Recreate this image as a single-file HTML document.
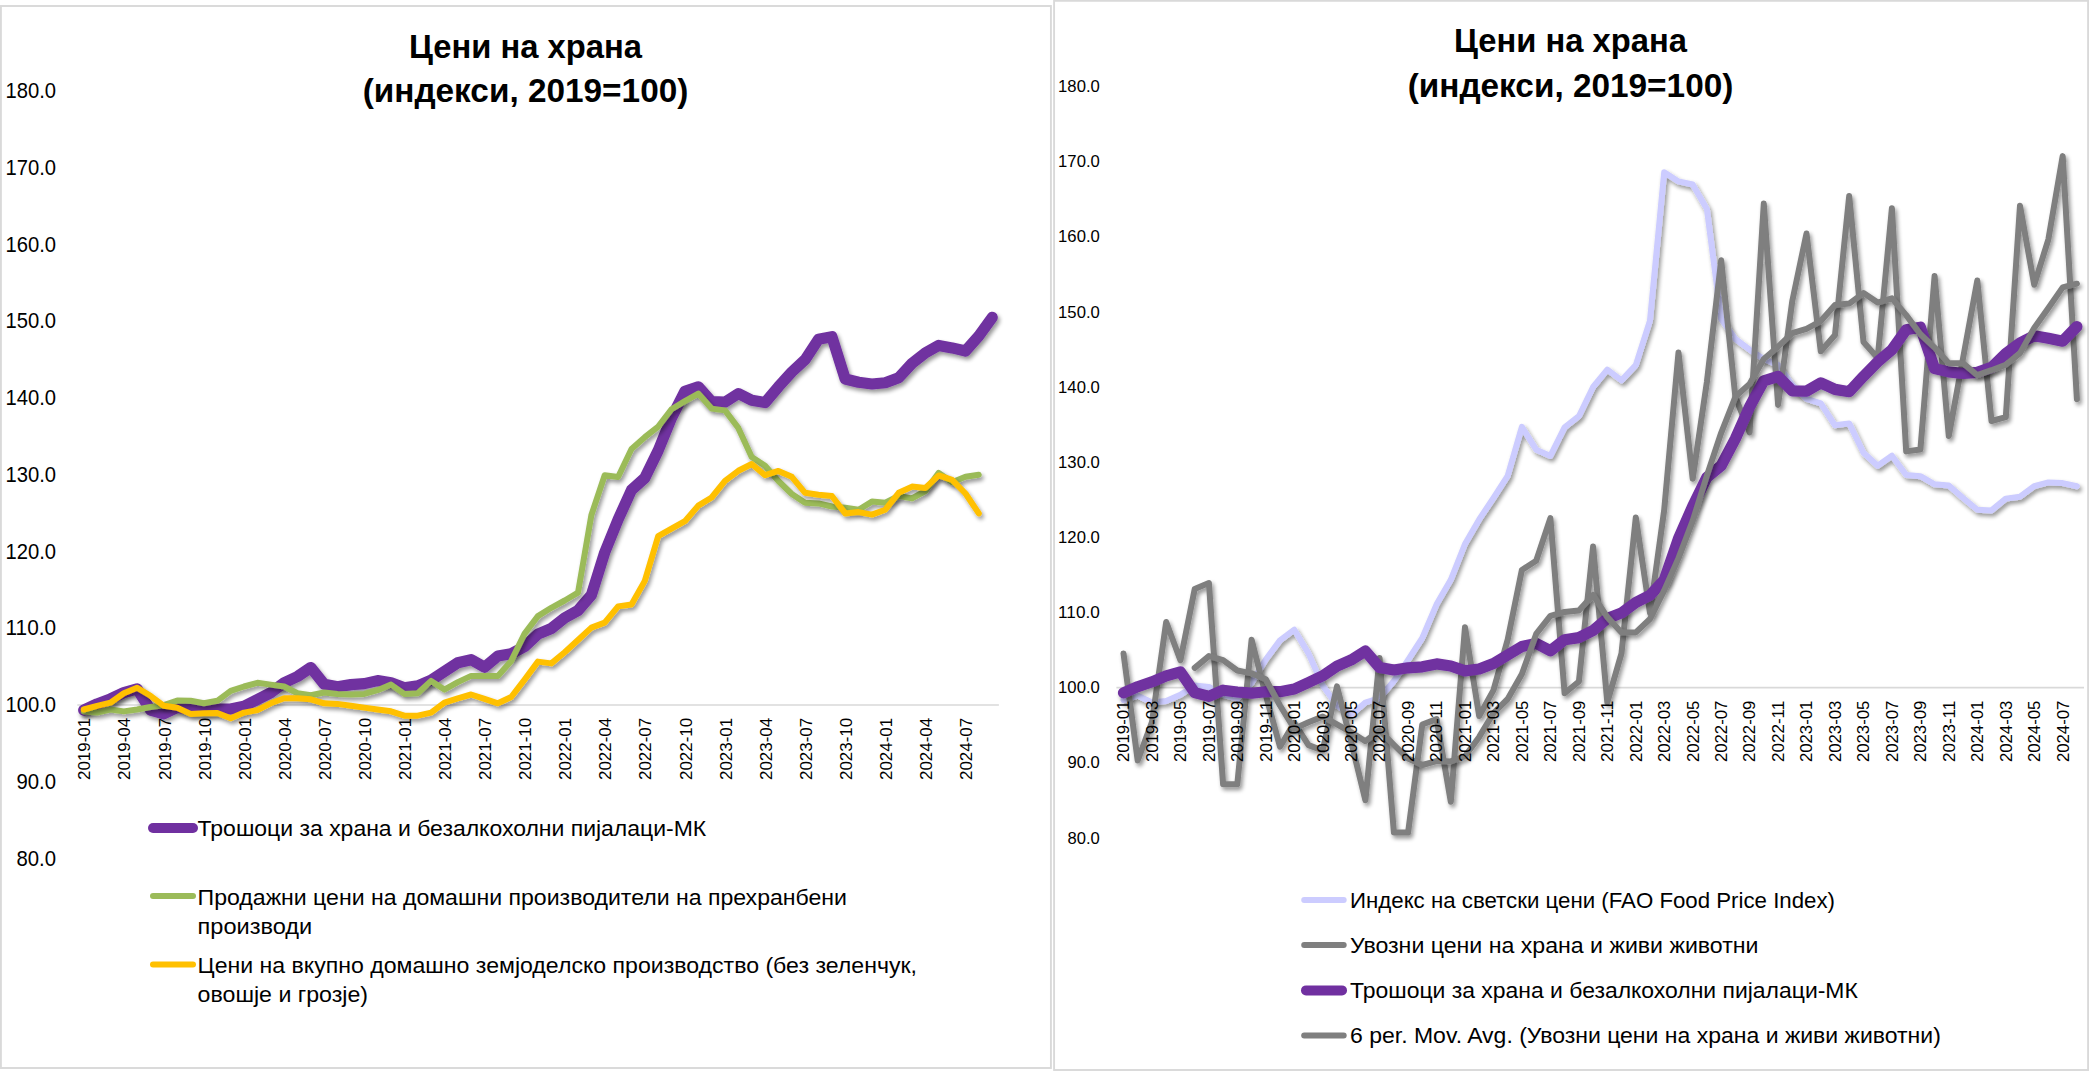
<!DOCTYPE html>
<html lang="mk"><head><meta charset="utf-8"><title>Цени на храна</title>
<style>html,body{margin:0;padding:0;background:#fff}body{width:2089px;height:1071px;overflow:hidden}svg{display:block}text{font-family:"Liberation Sans",sans-serif;fill:#000}</style>
</head><body>
<svg width="2089" height="1071" viewBox="0 0 2089 1071">
<defs><filter id="sh" x="-5%" y="-5%" width="110%" height="115%" filterUnits="objectBoundingBox"><feGaussianBlur in="SourceAlpha" stdDeviation="1.9"/><feOffset dx="2.2" dy="2.8" result="o"/><feComponentTransfer><feFuncA type="linear" slope="0.42"/></feComponentTransfer><feMerge><feMergeNode/><feMergeNode in="SourceGraphic"/></feMerge></filter></defs>
<rect width="2089" height="1071" fill="#fff"/>
<rect x="0.9" y="6" width="1050" height="1062" fill="none" stroke="#D9D9D9" stroke-width="1.9"/>
<rect x="1054.1" y="0.8" width="1034" height="1069.2" fill="none" stroke="#D9D9D9" stroke-width="1.9"/>
<g id="left">
<text x="525.5" y="57.7" font-size="32.3" font-weight="bold" text-anchor="middle" textLength="232.9" lengthAdjust="spacingAndGlyphs">Цени на храна</text>
<text x="525.5" y="102.4" font-size="32.3" font-weight="bold" text-anchor="middle" textLength="325.7" lengthAdjust="spacingAndGlyphs">(индекси, 2019=100)</text>
<text x="56.1" y="98.0" font-size="21.2" text-anchor="end" textLength="50.6" lengthAdjust="spacingAndGlyphs">180.0</text>
<text x="56.1" y="174.8" font-size="21.2" text-anchor="end" textLength="50.6" lengthAdjust="spacingAndGlyphs">170.0</text>
<text x="56.1" y="251.5" font-size="21.2" text-anchor="end" textLength="50.6" lengthAdjust="spacingAndGlyphs">160.0</text>
<text x="56.1" y="328.3" font-size="21.2" text-anchor="end" textLength="50.6" lengthAdjust="spacingAndGlyphs">150.0</text>
<text x="56.1" y="405.0" font-size="21.2" text-anchor="end" textLength="50.6" lengthAdjust="spacingAndGlyphs">140.0</text>
<text x="56.1" y="481.8" font-size="21.2" text-anchor="end" textLength="50.6" lengthAdjust="spacingAndGlyphs">130.0</text>
<text x="56.1" y="558.6" font-size="21.2" text-anchor="end" textLength="50.6" lengthAdjust="spacingAndGlyphs">120.0</text>
<text x="56.1" y="635.3" font-size="21.2" text-anchor="end" textLength="50.6" lengthAdjust="spacingAndGlyphs">110.0</text>
<text x="56.1" y="712.1" font-size="21.2" text-anchor="end" textLength="50.6" lengthAdjust="spacingAndGlyphs">100.0</text>
<text x="56.1" y="788.8" font-size="21.2" text-anchor="end" textLength="39.6" lengthAdjust="spacingAndGlyphs">90.0</text>
<text x="56.1" y="865.6" font-size="21.2" text-anchor="end" textLength="39.6" lengthAdjust="spacingAndGlyphs">80.0</text>
<line x1="77.3" y1="705" x2="998.9" y2="705" stroke="#D9D9D9" stroke-width="1.6"/>
<text transform="translate(90.3,717.8) rotate(-90)" font-size="16.6" text-anchor="end" textLength="62.2" lengthAdjust="spacingAndGlyphs">2019-01</text>
<text transform="translate(130.4,717.8) rotate(-90)" font-size="16.6" text-anchor="end" textLength="62.2" lengthAdjust="spacingAndGlyphs">2019-04</text>
<text transform="translate(170.5,717.8) rotate(-90)" font-size="16.6" text-anchor="end" textLength="62.2" lengthAdjust="spacingAndGlyphs">2019-07</text>
<text transform="translate(210.5,717.8) rotate(-90)" font-size="16.6" text-anchor="end" textLength="62.2" lengthAdjust="spacingAndGlyphs">2019-10</text>
<text transform="translate(250.6,717.8) rotate(-90)" font-size="16.6" text-anchor="end" textLength="62.2" lengthAdjust="spacingAndGlyphs">2020-01</text>
<text transform="translate(290.7,717.8) rotate(-90)" font-size="16.6" text-anchor="end" textLength="62.2" lengthAdjust="spacingAndGlyphs">2020-04</text>
<text transform="translate(330.8,717.8) rotate(-90)" font-size="16.6" text-anchor="end" textLength="62.2" lengthAdjust="spacingAndGlyphs">2020-07</text>
<text transform="translate(370.9,717.8) rotate(-90)" font-size="16.6" text-anchor="end" textLength="62.2" lengthAdjust="spacingAndGlyphs">2020-10</text>
<text transform="translate(410.9,717.8) rotate(-90)" font-size="16.6" text-anchor="end" textLength="62.2" lengthAdjust="spacingAndGlyphs">2021-01</text>
<text transform="translate(451.0,717.8) rotate(-90)" font-size="16.6" text-anchor="end" textLength="62.2" lengthAdjust="spacingAndGlyphs">2021-04</text>
<text transform="translate(491.1,717.8) rotate(-90)" font-size="16.6" text-anchor="end" textLength="62.2" lengthAdjust="spacingAndGlyphs">2021-07</text>
<text transform="translate(531.2,717.8) rotate(-90)" font-size="16.6" text-anchor="end" textLength="62.2" lengthAdjust="spacingAndGlyphs">2021-10</text>
<text transform="translate(571.3,717.8) rotate(-90)" font-size="16.6" text-anchor="end" textLength="62.2" lengthAdjust="spacingAndGlyphs">2022-01</text>
<text transform="translate(611.3,717.8) rotate(-90)" font-size="16.6" text-anchor="end" textLength="62.2" lengthAdjust="spacingAndGlyphs">2022-04</text>
<text transform="translate(651.4,717.8) rotate(-90)" font-size="16.6" text-anchor="end" textLength="62.2" lengthAdjust="spacingAndGlyphs">2022-07</text>
<text transform="translate(691.5,717.8) rotate(-90)" font-size="16.6" text-anchor="end" textLength="62.2" lengthAdjust="spacingAndGlyphs">2022-10</text>
<text transform="translate(731.6,717.8) rotate(-90)" font-size="16.6" text-anchor="end" textLength="62.2" lengthAdjust="spacingAndGlyphs">2023-01</text>
<text transform="translate(771.7,717.8) rotate(-90)" font-size="16.6" text-anchor="end" textLength="62.2" lengthAdjust="spacingAndGlyphs">2023-04</text>
<text transform="translate(811.7,717.8) rotate(-90)" font-size="16.6" text-anchor="end" textLength="62.2" lengthAdjust="spacingAndGlyphs">2023-07</text>
<text transform="translate(851.8,717.8) rotate(-90)" font-size="16.6" text-anchor="end" textLength="62.2" lengthAdjust="spacingAndGlyphs">2023-10</text>
<text transform="translate(891.9,717.8) rotate(-90)" font-size="16.6" text-anchor="end" textLength="62.2" lengthAdjust="spacingAndGlyphs">2024-01</text>
<text transform="translate(932.0,717.8) rotate(-90)" font-size="16.6" text-anchor="end" textLength="62.2" lengthAdjust="spacingAndGlyphs">2024-04</text>
<text transform="translate(972.1,717.8) rotate(-90)" font-size="16.6" text-anchor="end" textLength="62.2" lengthAdjust="spacingAndGlyphs">2024-07</text>
<polyline points="83.7,710.1 97.1,703.9 110.4,698.9 123.8,692.7 137.1,688.8 150.5,710.0 163.9,713.8 177.2,707.5 190.6,709.3 203.9,710.5 217.3,709.0 230.7,709.0 244.0,706.2 257.4,699.6 270.7,692.7 284.1,682.8 297.5,676.5 310.8,667.5 324.2,684.3 337.5,686.8 350.9,684.6 364.3,683.6 377.6,680.6 391.0,682.7 404.3,687.7 417.7,685.8 431.1,680.2 444.4,671.5 457.8,662.8 471.1,659.7 484.5,667.2 497.9,656.0 511.2,653.7 524.6,646.6 537.9,634.2 551.3,628.5 564.7,617.8 578.0,610.5 591.4,595.0 604.7,552.5 618.1,519.5 631.5,490.0 644.8,478.0 658.2,450.5 671.5,417.9 684.9,391.4 698.3,386.8 711.6,401.7 725.0,402.1 738.3,393.6 751.7,400.2 765.1,402.6 778.4,386.8 791.8,372.0 805.1,359.7 818.5,339.2 831.9,336.7 845.2,379.0 858.6,382.3 871.9,384.0 885.3,382.7 898.7,377.7 912.0,363.4 925.4,352.8 938.7,345.4 952.1,347.9 965.5,351.0 978.8,336.0 992.2,317.4" fill="none" stroke="#7030A0" stroke-width="11.2" stroke-linejoin="round" stroke-linecap="round" filter="url(#sh)"/>
<polyline points="83.7,711.4 97.1,712.6 110.4,709.5 123.8,711.4 137.1,709.5 150.5,707.0 163.9,705.2 177.2,700.6 190.6,700.8 203.9,703.3 217.3,700.8 230.7,690.9 244.0,686.5 257.4,682.8 270.7,684.6 284.1,686.5 297.5,693.3 310.8,695.2 324.2,692.5 337.5,693.9 350.9,694.5 364.3,693.9 377.6,690.2 391.0,684.6 404.3,693.9 417.7,693.3 431.1,680.9 444.4,689.6 457.8,682.1 471.1,675.9 484.5,675.9 497.9,675.9 511.2,660.9 524.6,633.6 537.9,616.1 551.3,607.8 564.7,600.5 578.0,592.7 591.4,515.0 604.7,475.2 618.1,477.0 631.5,449.0 644.8,437.2 658.2,426.6 671.5,409.2 684.9,401.1 698.3,393.6 711.6,408.6 725.0,410.4 738.3,427.9 751.7,457.1 765.1,465.8 778.4,481.0 791.8,494.0 805.1,502.8 818.5,503.4 831.9,506.5 845.2,507.8 858.6,509.7 871.9,501.6 885.3,502.8 898.7,496.0 912.0,498.4 925.4,491.0 938.7,472.9 952.1,482.3 965.5,476.7 978.8,474.8" fill="none" stroke="#9BBB59" stroke-width="6.0" stroke-linejoin="round" stroke-linecap="round" filter="url(#sh)"/>
<polyline points="83.7,709.5 97.1,705.8 110.4,702.7 123.8,693.3 137.1,687.7 150.5,695.8 163.9,705.8 177.2,707.7 190.6,713.9 203.9,713.3 217.3,713.0 230.7,718.2 244.0,712.6 257.4,710.1 270.7,703.3 284.1,698.3 297.5,698.3 310.8,699.3 324.2,703.3 337.5,703.9 350.9,705.7 364.3,707.6 377.6,709.5 391.0,711.3 404.3,715.7 417.7,715.7 431.1,712.6 444.4,702.6 457.8,698.3 471.1,694.5 484.5,698.9 497.9,703.3 511.2,697.0 524.6,679.6 537.9,661.6 551.3,663.4 564.7,652.2 578.0,640.0 591.4,627.6 604.7,622.6 618.1,606.4 631.5,604.5 644.8,580.9 658.2,536.1 671.5,528.6 684.9,521.2 698.3,505.6 711.6,497.5 725.0,480.8 738.3,470.8 751.7,464.0 765.1,475.2 778.4,470.9 791.8,476.8 805.1,492.8 818.5,494.7 831.9,496.0 845.2,513.4 858.6,512.1 871.9,514.6 885.3,509.7 898.7,492.8 912.0,486.6 925.4,487.9 938.7,475.4 952.1,479.8 965.5,493.5 978.8,513.4" fill="none" stroke="#FFC000" stroke-width="6.0" stroke-linejoin="round" stroke-linecap="round" filter="url(#sh)"/>
<line x1="153.0" y1="828.0" x2="193.0" y2="828.0" stroke="#7030A0" stroke-width="10.0" stroke-linecap="round"/>
<text x="197.6" y="836.3" font-size="21.7" textLength="508.6" lengthAdjust="spacingAndGlyphs">Трошоци за храна и безалкохолни пијалаци-МК</text>
<line x1="153.0" y1="896.0" x2="193.0" y2="896.0" stroke="#9BBB59" stroke-width="6.0" stroke-linecap="round"/>
<text x="197.6" y="904.6" font-size="21.7" textLength="649.4" lengthAdjust="spacingAndGlyphs">Продажни цени на домашни производители на прехранбени</text>
<text x="197.6" y="934.0" font-size="21.7" textLength="114.6" lengthAdjust="spacingAndGlyphs">производи</text>
<line x1="153.0" y1="964.6" x2="193.0" y2="964.6" stroke="#FFC000" stroke-width="6.0" stroke-linecap="round"/>
<text x="197.6" y="973.0" font-size="21.7" textLength="719.4" lengthAdjust="spacingAndGlyphs">Цени на вкупно домашно земјоделско производство (без зеленчук,</text>
<text x="197.6" y="1002.4" font-size="21.7" textLength="170.5" lengthAdjust="spacingAndGlyphs">овошје и грозје)</text>
</g>
<g id="right">
<text x="1570.5" y="52.2" font-size="32.3" font-weight="bold" text-anchor="middle" textLength="232.9" lengthAdjust="spacingAndGlyphs">Цени на храна</text>
<text x="1570.5" y="97.0" font-size="32.3" font-weight="bold" text-anchor="middle" textLength="325.7" lengthAdjust="spacingAndGlyphs">(индекси, 2019=100)</text>
<text x="1099.8" y="92.1" font-size="16.2" text-anchor="end" textLength="41.7" lengthAdjust="spacingAndGlyphs">180.0</text>
<text x="1099.8" y="167.2" font-size="16.2" text-anchor="end" textLength="41.7" lengthAdjust="spacingAndGlyphs">170.0</text>
<text x="1099.8" y="242.4" font-size="16.2" text-anchor="end" textLength="41.7" lengthAdjust="spacingAndGlyphs">160.0</text>
<text x="1099.8" y="317.6" font-size="16.2" text-anchor="end" textLength="41.7" lengthAdjust="spacingAndGlyphs">150.0</text>
<text x="1099.8" y="392.7" font-size="16.2" text-anchor="end" textLength="41.7" lengthAdjust="spacingAndGlyphs">140.0</text>
<text x="1099.8" y="467.9" font-size="16.2" text-anchor="end" textLength="41.7" lengthAdjust="spacingAndGlyphs">130.0</text>
<text x="1099.8" y="543.0" font-size="16.2" text-anchor="end" textLength="41.7" lengthAdjust="spacingAndGlyphs">120.0</text>
<text x="1099.8" y="618.1" font-size="16.2" text-anchor="end" textLength="41.7" lengthAdjust="spacingAndGlyphs">110.0</text>
<text x="1099.8" y="693.3" font-size="16.2" text-anchor="end" textLength="41.7" lengthAdjust="spacingAndGlyphs">100.0</text>
<text x="1099.8" y="768.4" font-size="16.2" text-anchor="end" textLength="32.3" lengthAdjust="spacingAndGlyphs">90.0</text>
<text x="1099.8" y="843.6" font-size="16.2" text-anchor="end" textLength="32.3" lengthAdjust="spacingAndGlyphs">80.0</text>
<line x1="1116.4" y1="687.6" x2="2084" y2="687.6" stroke="#D9D9D9" stroke-width="1.6"/>
<polyline points="1123.5,700.2 1137.7,695.6 1152.0,702.5 1166.2,700.9 1180.4,694.8 1194.7,685.6 1208.9,687.0 1223.1,694.8 1237.3,698.6 1251.6,683.0 1265.8,659.5 1280.0,640.4 1294.3,629.7 1308.5,653.4 1322.7,685.6 1337.0,705.5 1351.2,714.7 1365.4,702.5 1379.6,698.0 1393.9,681.0 1408.1,660.0 1422.3,638.0 1436.6,604.3 1450.8,579.8 1465.0,544.0 1479.2,519.4 1493.5,498.0 1507.7,475.8 1521.9,426.8 1536.2,449.7 1550.4,455.9 1564.6,427.3 1578.9,416.2 1593.1,387.0 1607.3,369.7 1621.5,380.4 1635.8,365.1 1650.0,320.6 1664.2,172.2 1678.5,181.4 1692.7,184.5 1706.9,209.0 1721.2,319.1 1735.4,339.0 1749.6,349.7 1763.8,358.9 1778.1,365.1 1792.3,385.0 1806.5,398.8 1820.8,403.4 1835.0,425.3 1849.2,423.4 1863.5,452.8 1877.7,465.7 1891.9,455.7 1906.2,475.0 1920.4,476.2 1934.6,484.3 1948.8,485.5 1963.1,498.0 1977.3,509.8 1991.5,510.4 2005.8,498.6 2020.0,496.7 2034.2,486.2 2048.4,482.4 2062.7,483.1 2076.9,486.2" fill="none" stroke="#CCCCFF" stroke-width="6.0" stroke-linejoin="round" stroke-linecap="round" filter="url(#sh)"/>
<polyline points="1123.5,653.4 1137.7,760.5 1152.0,722.0 1166.2,622.0 1180.4,660.3 1194.7,589.1 1208.9,583.0 1223.1,784.2 1237.3,784.2 1251.6,639.7 1265.8,695.0 1280.0,746.7 1294.3,722.9 1308.5,745.1 1322.7,750.5 1337.0,686.4 1351.2,742.0 1365.4,800.3 1379.6,658.0 1393.9,832.5 1408.1,832.5 1422.3,724.5 1436.6,719.1 1450.8,801.8 1465.0,627.3 1479.2,716.0 1493.5,690.1 1507.7,639.6 1521.9,569.9 1536.2,560.7 1550.4,518.2 1564.6,693.2 1578.9,681.5 1593.1,546.5 1607.3,702.3 1621.5,653.4 1635.8,517.5 1650.0,613.0 1664.2,510.0 1678.5,352.6 1692.7,478.8 1706.9,381.9 1721.2,260.3 1735.4,397.2 1749.6,432.5 1763.8,203.6 1778.1,404.9 1792.3,301.0 1806.5,233.5 1820.8,351.3 1835.0,335.0 1849.2,196.0 1863.5,342.0 1877.7,358.0 1891.9,208.3 1906.2,451.4 1920.4,449.5 1934.6,276.1 1948.8,435.9 1963.1,358.0 1977.3,280.5 1991.5,421.0 2005.8,417.2 2020.0,205.8 2034.2,284.8 2048.4,239.3 2062.7,156.1 2076.9,399.2" fill="none" stroke="#7F7F7F" stroke-width="6.0" stroke-linejoin="round" stroke-linecap="round" filter="url(#sh)"/>
<polyline points="1123.5,692.8 1137.7,686.7 1152.0,681.8 1166.2,675.8 1180.4,671.9 1194.7,692.7 1208.9,696.4 1223.1,690.2 1237.3,692.0 1251.6,693.2 1265.8,691.7 1280.0,691.7 1294.3,689.0 1308.5,682.5 1322.7,675.8 1337.0,666.1 1351.2,659.9 1365.4,651.1 1379.6,667.5 1393.9,670.0 1408.1,667.8 1422.3,666.8 1436.6,663.9 1450.8,666.0 1465.0,670.9 1479.2,669.0 1493.5,663.5 1507.7,655.0 1521.9,646.5 1536.2,643.4 1550.4,650.8 1564.6,639.8 1578.9,637.6 1593.1,630.6 1607.3,618.5 1621.5,612.9 1635.8,602.4 1650.0,595.3 1664.2,580.1 1678.5,538.5 1692.7,506.2 1706.9,477.3 1721.2,465.6 1735.4,438.6 1749.6,406.7 1763.8,380.8 1778.1,376.3 1792.3,390.9 1806.5,391.2 1820.8,382.9 1835.0,389.4 1849.2,391.7 1863.5,376.3 1877.7,361.8 1891.9,349.7 1906.2,329.7 1920.4,327.2 1934.6,368.6 1948.8,371.9 1963.1,373.5 1977.3,372.3 1991.5,367.4 2005.8,353.4 2020.0,343.0 2034.2,335.7 2048.4,338.2 2062.7,341.2 2076.9,326.5" fill="none" stroke="#7030A0" stroke-width="11.2" stroke-linejoin="round" stroke-linecap="round" filter="url(#sh)"/>
<polyline points="1194.7,667.9 1208.9,656.1 1223.1,660.1 1237.3,670.5 1251.6,673.4 1265.8,679.2 1280.0,705.5 1294.3,728.8 1308.5,722.3 1322.7,716.6 1337.0,724.4 1351.2,732.3 1365.4,741.2 1379.6,730.4 1393.9,744.9 1408.1,758.6 1422.3,765.0 1436.6,761.1 1450.8,761.4 1465.0,756.3 1479.2,736.9 1493.5,713.1 1507.7,699.0 1521.9,674.1 1536.2,633.9 1550.4,615.8 1564.6,612.0 1578.9,610.5 1593.1,595.0 1607.3,617.1 1621.5,632.5 1635.8,632.4 1650.0,619.0 1664.2,590.4 1678.5,558.1 1692.7,520.9 1706.9,475.6 1721.2,432.8 1735.4,396.8 1749.6,383.9 1763.8,359.1 1778.1,346.7 1792.3,333.2 1806.5,328.8 1820.8,321.1 1835.0,304.9 1849.2,303.6 1863.5,293.1 1877.7,302.6 1891.9,298.4 1906.2,315.1 1920.4,334.2 1934.6,347.6 1948.8,363.2 1963.1,363.2 1977.3,375.2 1991.5,370.2 2005.8,364.8 2020.0,353.1 2034.2,327.9 2048.4,308.1 2062.7,287.4 2076.9,283.7" fill="none" stroke="#7F7F7F" stroke-width="6.0" stroke-linejoin="round" stroke-linecap="round" filter="url(#sh)"/>
<text transform="translate(1129.3,700.7) rotate(-90)" font-size="16.2" text-anchor="end" textLength="61.3" lengthAdjust="spacingAndGlyphs">2019-01</text>
<text transform="translate(1157.8,700.7) rotate(-90)" font-size="16.2" text-anchor="end" textLength="61.3" lengthAdjust="spacingAndGlyphs">2019-03</text>
<text transform="translate(1186.2,700.7) rotate(-90)" font-size="16.2" text-anchor="end" textLength="61.3" lengthAdjust="spacingAndGlyphs">2019-05</text>
<text transform="translate(1214.7,700.7) rotate(-90)" font-size="16.2" text-anchor="end" textLength="61.3" lengthAdjust="spacingAndGlyphs">2019-07</text>
<text transform="translate(1243.1,700.7) rotate(-90)" font-size="16.2" text-anchor="end" textLength="61.3" lengthAdjust="spacingAndGlyphs">2019-09</text>
<text transform="translate(1271.6,700.7) rotate(-90)" font-size="16.2" text-anchor="end" textLength="61.3" lengthAdjust="spacingAndGlyphs">2019-11</text>
<text transform="translate(1300.1,700.7) rotate(-90)" font-size="16.2" text-anchor="end" textLength="61.3" lengthAdjust="spacingAndGlyphs">2020-01</text>
<text transform="translate(1328.5,700.7) rotate(-90)" font-size="16.2" text-anchor="end" textLength="61.3" lengthAdjust="spacingAndGlyphs">2020-03</text>
<text transform="translate(1357.0,700.7) rotate(-90)" font-size="16.2" text-anchor="end" textLength="61.3" lengthAdjust="spacingAndGlyphs">2020-05</text>
<text transform="translate(1385.4,700.7) rotate(-90)" font-size="16.2" text-anchor="end" textLength="61.3" lengthAdjust="spacingAndGlyphs">2020-07</text>
<text transform="translate(1413.9,700.7) rotate(-90)" font-size="16.2" text-anchor="end" textLength="61.3" lengthAdjust="spacingAndGlyphs">2020-09</text>
<text transform="translate(1442.4,700.7) rotate(-90)" font-size="16.2" text-anchor="end" textLength="61.3" lengthAdjust="spacingAndGlyphs">2020-11</text>
<text transform="translate(1470.8,700.7) rotate(-90)" font-size="16.2" text-anchor="end" textLength="61.3" lengthAdjust="spacingAndGlyphs">2021-01</text>
<text transform="translate(1499.3,700.7) rotate(-90)" font-size="16.2" text-anchor="end" textLength="61.3" lengthAdjust="spacingAndGlyphs">2021-03</text>
<text transform="translate(1527.7,700.7) rotate(-90)" font-size="16.2" text-anchor="end" textLength="61.3" lengthAdjust="spacingAndGlyphs">2021-05</text>
<text transform="translate(1556.2,700.7) rotate(-90)" font-size="16.2" text-anchor="end" textLength="61.3" lengthAdjust="spacingAndGlyphs">2021-07</text>
<text transform="translate(1584.7,700.7) rotate(-90)" font-size="16.2" text-anchor="end" textLength="61.3" lengthAdjust="spacingAndGlyphs">2021-09</text>
<text transform="translate(1613.1,700.7) rotate(-90)" font-size="16.2" text-anchor="end" textLength="61.3" lengthAdjust="spacingAndGlyphs">2021-11</text>
<text transform="translate(1641.6,700.7) rotate(-90)" font-size="16.2" text-anchor="end" textLength="61.3" lengthAdjust="spacingAndGlyphs">2022-01</text>
<text transform="translate(1670.0,700.7) rotate(-90)" font-size="16.2" text-anchor="end" textLength="61.3" lengthAdjust="spacingAndGlyphs">2022-03</text>
<text transform="translate(1698.5,700.7) rotate(-90)" font-size="16.2" text-anchor="end" textLength="61.3" lengthAdjust="spacingAndGlyphs">2022-05</text>
<text transform="translate(1727.0,700.7) rotate(-90)" font-size="16.2" text-anchor="end" textLength="61.3" lengthAdjust="spacingAndGlyphs">2022-07</text>
<text transform="translate(1755.4,700.7) rotate(-90)" font-size="16.2" text-anchor="end" textLength="61.3" lengthAdjust="spacingAndGlyphs">2022-09</text>
<text transform="translate(1783.9,700.7) rotate(-90)" font-size="16.2" text-anchor="end" textLength="61.3" lengthAdjust="spacingAndGlyphs">2022-11</text>
<text transform="translate(1812.3,700.7) rotate(-90)" font-size="16.2" text-anchor="end" textLength="61.3" lengthAdjust="spacingAndGlyphs">2023-01</text>
<text transform="translate(1840.8,700.7) rotate(-90)" font-size="16.2" text-anchor="end" textLength="61.3" lengthAdjust="spacingAndGlyphs">2023-03</text>
<text transform="translate(1869.3,700.7) rotate(-90)" font-size="16.2" text-anchor="end" textLength="61.3" lengthAdjust="spacingAndGlyphs">2023-05</text>
<text transform="translate(1897.7,700.7) rotate(-90)" font-size="16.2" text-anchor="end" textLength="61.3" lengthAdjust="spacingAndGlyphs">2023-07</text>
<text transform="translate(1926.2,700.7) rotate(-90)" font-size="16.2" text-anchor="end" textLength="61.3" lengthAdjust="spacingAndGlyphs">2023-09</text>
<text transform="translate(1954.6,700.7) rotate(-90)" font-size="16.2" text-anchor="end" textLength="61.3" lengthAdjust="spacingAndGlyphs">2023-11</text>
<text transform="translate(1983.1,700.7) rotate(-90)" font-size="16.2" text-anchor="end" textLength="61.3" lengthAdjust="spacingAndGlyphs">2024-01</text>
<text transform="translate(2011.6,700.7) rotate(-90)" font-size="16.2" text-anchor="end" textLength="61.3" lengthAdjust="spacingAndGlyphs">2024-03</text>
<text transform="translate(2040.0,700.7) rotate(-90)" font-size="16.2" text-anchor="end" textLength="61.3" lengthAdjust="spacingAndGlyphs">2024-05</text>
<text transform="translate(2068.5,700.7) rotate(-90)" font-size="16.2" text-anchor="end" textLength="61.3" lengthAdjust="spacingAndGlyphs">2024-07</text>
<line x1="1304.2" y1="900.0" x2="1343.7" y2="900.0" stroke="#CCCCFF" stroke-width="6.0" stroke-linecap="round"/>
<text x="1350.0" y="908.4" font-size="21.7" textLength="485.0" lengthAdjust="spacingAndGlyphs">Индекс на светски цени (FAO Food Price Index)</text>
<line x1="1304.2" y1="944.9" x2="1343.7" y2="944.9" stroke="#7F7F7F" stroke-width="6.0" stroke-linecap="round"/>
<text x="1350.0" y="953.0" font-size="21.7" textLength="408.5" lengthAdjust="spacingAndGlyphs">Увозни цени на храна и живи животни</text>
<line x1="1306.0" y1="990.4" x2="1342.0" y2="990.4" stroke="#7030A0" stroke-width="10.0" stroke-linecap="round"/>
<text x="1350.0" y="997.9" font-size="21.7" textLength="507.8" lengthAdjust="spacingAndGlyphs">Трошоци за храна и безалкохолни пијалаци-МК</text>
<line x1="1304.2" y1="1035.4" x2="1343.7" y2="1035.4" stroke="#7F7F7F" stroke-width="6.0" stroke-linecap="round"/>
<text x="1350.0" y="1042.5" font-size="21.7" textLength="590.8" lengthAdjust="spacingAndGlyphs">6 per. Mov. Avg. (Увозни цени на храна и живи животни)</text>
</g>
</svg></body></html>
